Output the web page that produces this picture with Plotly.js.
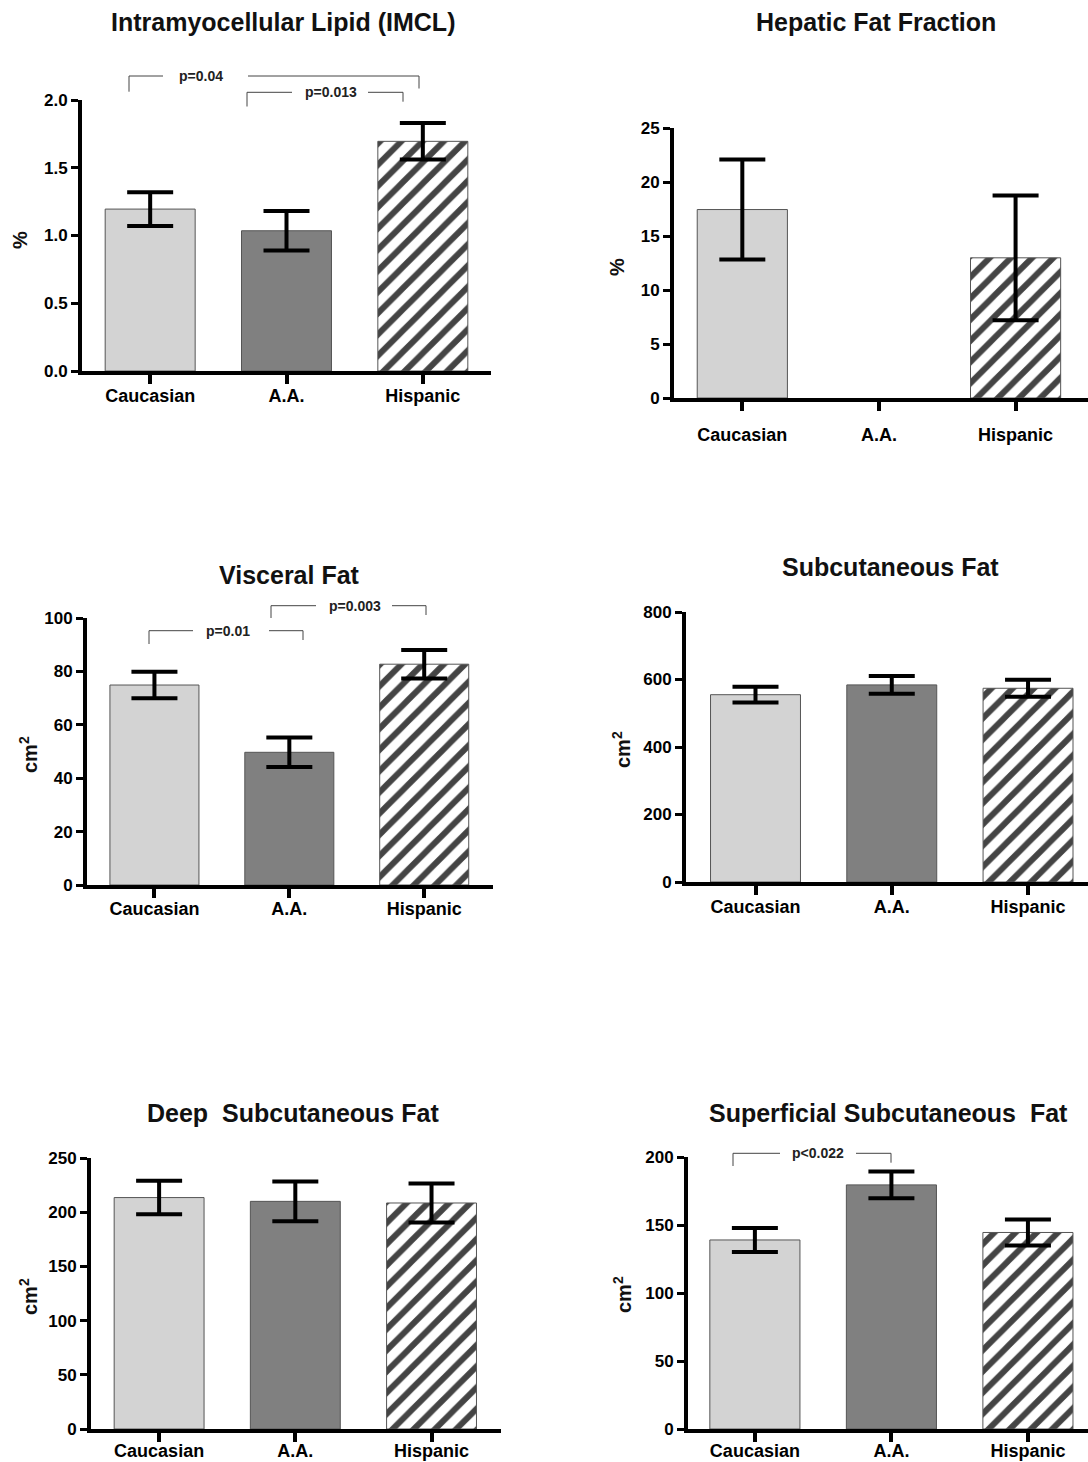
<!DOCTYPE html>
<html><head><meta charset="utf-8">
<script src="https://cdn.plot.ly/plotly-3.0.1.min.js"></script>
<style>html,body{margin:0;padding:0;background:#fff}#chart{width:1088px;height:1462px}</style>
</head><body><div id="chart"></div>
<script>
// ---------- data ----------
const groups = ['Caucasian', 'A.A.', 'Hispanic'];

const imclMean = [1.195, 1.035, 1.695];
const imclErr  = [0.125, 0.145, 0.135];

const hepaticMean = [17.45, null, 12.98];
const hepaticErr  = [4.63, null, 5.78];

const visceralMean = [74.9, 49.7, 82.7];
const visceralErr  = [5.0, 5.5, 5.35];

const subcutMean = [555, 584, 574];
const subcutErr  = [23.5, 26.5, 25];

const deepMean = [213.5, 210, 208.5];
const deepErr  = [15.5, 18.3, 18];

const superfMean = [139, 179.5, 144.5];
const superfErr  = [8.8, 9.8, 9.6];

const panelTitles = ['Intramyocellular Lipid (IMCL)', 'Hepatic Fat Fraction', 'Visceral Fat',
                     'Subcutaneous Fat', 'Deep  Subcutaneous Fat', 'Superficial Subcutaneous  Fat'];
const unitLabels = ['%', '%', 'cm<sup>2</sup>', 'cm<sup>2</sup>', 'cm<sup>2</sup>', 'cm<sup>2</sup>'];
const yMaxima = [2, 25, 100, 800, 250, 200];
const yDticks = [0.5, 5, 20, 200, 50, 50];
const pLabels = ['p=0.04', 'p=0.013', 'p=0.01', 'p=0.003', 'p&lt;0.022'];

// ---------- styles / layout geometry (pixels) ----------
const W = 1088, H = 1462;
const groupColors = ['#d3d3d3', '#808080', '#ffffff'];
const groupPatterns = ['', '', '/'];
const FONT = 'Liberation Sans, Arial, Helvetica, sans-serif';

const means = [imclMean, hepaticMean, visceralMean, subcutMean, deepMean, superfMean];
const errs  = [imclErr, hepaticErr, visceralErr, subcutErr, deepErr, superfErr];

const geom = [
  {ax: 80,  axEnd: 491,  y0: 373,  yTop: 100,  xr: [-0.5, 2.5],   t: [283, 22],   u: [20, 240],  fmt: '.1f', stand: -4},
  {ax: 672, axEnd: 1088, y0: 400,  yTop: 128,  xr: [-0.5, 2.53],  t: [876, 22],   u: [617, 267], fmt: 'd',   stand: 8},
  {ax: 85,  axEnd: 493,  y0: 887,  yTop: 618,  xr: [-0.5, 2.51],  t: [289, 575],  u: [28, 755],  fmt: 'd',   stand: -5},
  {ax: 684, axEnd: 1088, y0: 884,  yTop: 612,  xr: [-0.51, 2.44], t: [890, 567],  u: [622, 750], fmt: 'd',   stand: -4},
  {ax: 89,  axEnd: 501,  y0: 1431, yTop: 1158, xr: [-0.5, 2.51],  t: [293, 1113], u: [28, 1297], fmt: 'd',   stand: -7},
  {ax: 686, axEnd: 1088, y0: 1431, yTop: 1157, xr: [-0.49, 2.44], t: [888, 1113], u: [622, 1295], fmt: 'd',  stand: -7}
];

// significance brackets (pixel geometry): legs, line y, gap around text
const brackets = [
  {xl: 129, xr: 419, y: 76,    lb: 91.7, rb: 88.5,  gl: 163, gr: 248, tx: 201, label: 0},
  {xl: 247, xr: 403, y: 92.3,  lb: 106.5, rb: 101.7, gl: 292, gr: 368, tx: 331, label: 1},
  {xl: 149, xr: 303, y: 630.7, lb: 644, rb: 640,    gl: 193, gr: 269, tx: 228, label: 2},
  {xl: 271, xr: 426, y: 605.7, lb: 618, rb: 615,    gl: 316, gr: 392, tx: 355, label: 3},
  {xl: 733, xr: 891, y: 1153.3, lb: 1166, rb: 1162.7, gl: 780, gr: 856, tx: 818, label: 4}
];

const px2x = p => p / W;
const px2y = p => 1 - p / H;

const data = [];
const layout = {
  width: W, height: H,
  margin: {l: 0, r: 0, t: 0, b: 0},
  paper_bgcolor: '#fff', plot_bgcolor: 'rgba(0,0,0,0)',
  showlegend: false,
  font: {family: FONT, color: '#000'},
  annotations: [], shapes: [],
  bargap: 0
};

geom.forEach((g, i) => {
  const n = i === 0 ? '' : String(i + 1);
  data.push({
    type: 'bar',
    x: groups, y: means[i],
    xaxis: 'x' + n, yaxis: 'y' + n,
    width: 0.66,
    marker: {
      color: groupColors,
      line: {color: '#555', width: 1},
      pattern: {shape: groupPatterns, fgcolor: '#000', fgopacity: 1, size: 15, solidity: 0.4, fillmode: 'overlay'}
    },
    error_y: {type: 'data', array: errs[i], visible: true, color: '#000', thickness: 4, width: 23},
    hoverinfo: 'skip'
  });
  layout['xaxis' + n] = {
    type: 'category', anchor: 'y' + n,
    domain: [px2x(g.ax + 2), px2x(g.axEnd)],
    range: g.xr, fixedrange: true,
    showgrid: false, zeroline: false,
    showline: true, linewidth: 4, linecolor: '#000',
    ticks: 'outside', ticklen: 9, tickwidth: 4, tickcolor: '#000',
    ticklabelstandoff: g.stand,
    tickfont: {family: FONT, size: 18, weight: 'bold', color: '#000'}
  };
  layout['yaxis' + n] = {
    anchor: 'x' + n,
    domain: [px2y(g.y0 - 2), px2y(g.yTop)],
    range: [0, yMaxima[i]], tick0: 0, dtick: yDticks[i], tickformat: g.fmt,
    fixedrange: true,
    showgrid: false, zeroline: false,
    showline: true, linewidth: 4, linecolor: '#000',
    ticks: 'outside', ticklen: 7, tickwidth: 3, tickcolor: '#000',
    tickfont: {family: FONT, size: 17, weight: 'bold', color: '#000'}
  };
  layout.annotations.push({
    text: panelTitles[i], xref: 'paper', yref: 'paper',
    x: px2x(g.t[0]), y: px2y(g.t[1]), xanchor: 'center', yanchor: 'middle',
    showarrow: false, font: {family: FONT, size: 25, weight: 'bold', color: '#111'}
  });
  layout.annotations.push({
    text: unitLabels[i], xref: 'paper', yref: 'paper', textangle: -90,
    x: px2x(g.u[0]), y: px2y(g.u[1]), xanchor: 'center', yanchor: 'middle',
    showarrow: false, font: {family: FONT, size: 20, weight: 'bold', color: '#111'}
  });
});

function seg(x0, y0, x1, y1) {
  layout.shapes.push({type: 'line', xref: 'paper', yref: 'paper',
    x0: px2x(x0), y0: px2y(y0), x1: px2x(x1), y1: px2y(y1),
    line: {color: '#444', width: 1}});
}
brackets.forEach(b => {
  seg(b.xl, b.lb, b.xl, b.y);
  seg(b.xl, b.y, b.gl, b.y);
  seg(b.gr, b.y, b.xr, b.y);
  seg(b.xr, b.y, b.xr, b.rb);
  layout.annotations.push({
    text: pLabels[b.label], xref: 'paper', yref: 'paper',
    x: px2x(b.tx), y: px2y(b.y), xanchor: 'center', yanchor: 'middle',
    showarrow: false, font: {family: FONT, size: 14, weight: 'bold', color: '#222'}
  });
});

Plotly.newPlot('chart', data, layout, {displayModeBar: false, staticPlot: true});
</script>
</body></html>
